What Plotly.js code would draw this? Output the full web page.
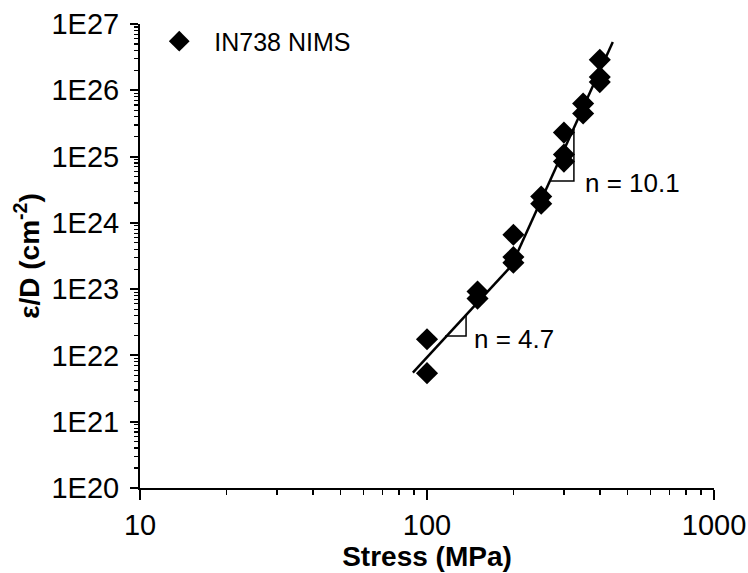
<!DOCTYPE html>
<html>
<head>
<meta charset="utf-8">
<script src="https://cdn.plot.ly/plotly-3.0.1.min.js"></script>
<style>html,body{margin:0;padding:0;background:#fff}#chart{width:748px;height:573px}</style>
</head>
<body>
<div id="chart"></div>
<script>
// Measured data (stress in MPa, strain rate / diffusivity in cm^-2)
var stress = [100, 100, 150, 150, 200, 200, 200, 250, 250, 300, 300, 300, 350, 350, 400, 400, 400];
var epsD = [1.75e22, 5.4e21, 9.2e22, 7.2e22, 6.6e23, 3.05e23, 2.5e23, 2.5e24, 1.95e24, 2.3e25, 1.07e25, 8.4e24, 6.3e25, 4.46e25, 2.88e26, 1.58e26, 1.33e26];

// Fitted power-law lines (two regimes)
var fit1X = [89.3, 196.8];
var fit1Y = [5.5e21, 2.24e23];
var fit2X = [196.8, 444];
var fit2Y = [2.24e23, 5.37e26];

// Slope triangles (legs)
var tri1X = [115.6, 136.8, 136.8];
var tri1Y = [1.96e22, 1.96e22, 4.07e22];
var tri2X = [268.4, 325, 325];
var tri2Y = [4.27e24, 4.27e24, 2.63e25];

var xTickVals = [10, 100, 1000];
var xTickText = ['10', '100', '1000'];
var yTickVals = [1e20, 1e21, 1e22, 1e23, 1e24, 1e25, 1e26, 1e27];
var yTickText = ['1E20', '1E21', '1E22', '1E23', '1E24', '1E25', '1E26', '1E27'];

var seriesName = 'IN738 NIMS';
var label1 = 'n = 4.7';
var label2 = 'n = 10.1';

function minorVals(lo, hi) {
  var v = [];
  for (var d = lo; d < hi; d++) {
    for (var k = 2; k <= 9; k++) v.push(k * Math.pow(10, d));
  }
  return v;
}

var FONT = 'Liberation Sans, Arial, sans-serif';

var traces = [
  {x: fit1X, y: fit1Y, mode: 'lines', line: {color: '#000', width: 2.5}, showlegend: false, hoverinfo: 'skip'},
  {x: fit2X, y: fit2Y, mode: 'lines', line: {color: '#000', width: 2.5}, showlegend: false, hoverinfo: 'skip'},
  {x: tri1X, y: tri1Y, mode: 'lines', line: {color: '#000', width: 1.5}, showlegend: false, hoverinfo: 'skip'},
  {x: tri2X, y: tri2Y, mode: 'lines', line: {color: '#000', width: 1.5}, showlegend: false, hoverinfo: 'skip'},
  {x: stress, y: epsD, mode: 'markers', name: seriesName,
   marker: {symbol: 'diamond', size: 17, color: '#000'}}
];

var layout = {
  width: 748, height: 573,
  margin: {l: 139.5, r: 34, t: 24, b: 85},
  paper_bgcolor: '#fff', plot_bgcolor: '#fff',
  font: {family: FONT, color: '#000', size: 26},
  showlegend: true,
  legend: {x: 0.0074, y: 1.012, xanchor: 'left', yanchor: 'top', bgcolor: 'rgba(0,0,0,0)',
           itemwidth: 60, font: {size: 25, family: FONT}},
  xaxis: {
    type: 'log', range: [1, 3],
    showline: true, linecolor: '#000', linewidth: 2, mirror: false,
    showgrid: false, zeroline: false,
    ticks: 'outside', ticklen: 10, tickwidth: 2, tickcolor: '#000',
    tickmode: 'array', tickvals: xTickVals, ticktext: xTickText,
    tickfont: {size: 29, family: FONT},
    minor: {tickmode: 'array', tickvals: minorVals(1, 3), ticks: 'outside', ticklen: 5, tickwidth: 1.5, tickcolor: '#000', showgrid: false},
    title: {text: '<b>Stress (MPa)</b>', font: {size: 28, family: FONT}, standoff: 4}
  },
  yaxis: {
    type: 'log', range: [20, 27],
    showline: true, linecolor: '#000', linewidth: 2, mirror: false,
    showgrid: false, zeroline: false,
    ticks: 'outside', ticklen: 8, tickwidth: 2, tickcolor: '#000',
    ticklabelstandoff: 5,
    tickmode: 'array', tickvals: yTickVals, ticktext: yTickText,
    tickfont: {size: 29, family: FONT},
    minor: {tickmode: 'array', tickvals: minorVals(20, 27), ticks: 'outside', ticklen: 4, tickwidth: 1.2, tickcolor: '#000', showgrid: false},
    title: {text: '<b>ε/D (cm<sup>-2</sup>)</b>', font: {size: 28, family: FONT}, standoff: 4}
  },
  annotations: [
    {x: Math.log10(143.5), y: 22.25, xref: 'x', yref: 'y', text: label1, showarrow: false,
     xanchor: 'left', yanchor: 'middle', font: {size: 26, family: FONT}},
    {x: Math.log10(349.7), y: 24.60, xref: 'x', yref: 'y', text: label2, showarrow: false,
     xanchor: 'left', yanchor: 'middle', font: {size: 26, family: FONT}}
  ]
};

Plotly.newPlot('chart', traces, layout, {displayModeBar: false, staticPlot: true});
</script>
</body>
</html>
